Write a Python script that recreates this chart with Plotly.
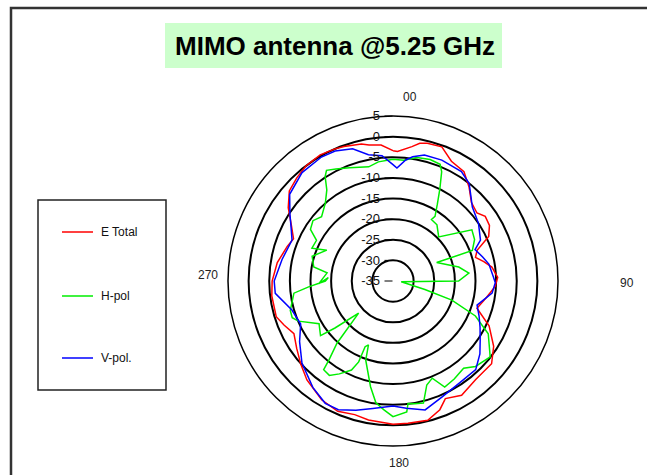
import plotly.graph_objects as go

# Radiation pattern of the MIMO antenna at 5.25 GHz (angle in degrees, gain in dB)
e_total_deg = [0, 2, 8, 11, 14, 20, 26, 33, 39, 45, 51, 55, 60, 65, 70, 74, 78, 82, 88,
               93, 100, 108, 115, 123, 130, 140, 149, 156, 160, 166, 174, 180, 190, 196,
               203, 211, 221, 228, 235, 242, 248, 253, 263, 270, 279, 288, 293, 299, 305,
               311, 317, 323, 330, 336, 340, 347, 350, 355, 360]
e_total_db = [-3.4, -3.6, -2.1, -1.0, -0.6, -0.4, -2.7, -3.4, -5.7, -8.1, -8.8, -7.7, -8.0,
              -9.4, -13.3, -14.2, -12.5, -10.8, -9.6, -10.2, -12.0, -13.6, -9.3, -5.9, -3.8,
              -3.8, -2.7, -3.8, -1.8, -0.2, -0.3, -0.3, -0.8, -1.3, -0.7, -1.4, -3.2, -4.9,
              -6.5, -7.8, -6.5, -5.4, -5.4, -5.7, -6.6, -8.0, -8.8, -6.8, -4.0, -1.7, -0.8,
              0.0, 0.3, 0.0, -0.3, -0.9, -1.5, -1.9, -3.4]

v_pol_deg = [0, 2, 6, 9, 14, 22, 32, 38, 47, 56, 65, 69, 75, 80, 88, 91, 97, 106, 112,
             118, 124, 130, 137, 147, 157, 166, 174, 180, 189, 196, 203, 209, 217, 228,
             237, 245, 254, 264, 270, 281, 292, 298, 303, 310, 320, 330, 336, 343, 349,
             355, 360]
v_pol_db = [-6.8, -7.6, -5.5, -4.5, -3.5, -3.4, -3.7, -5.0, -8.7, -10.0, -11.6, -13.7,
            -12.5, -11.4, -10.6, -10.2, -10.8, -13.8, -12.5, -11.1, -9.5, -7.5, -5.6, -5.5,
            -4.5, -2.8, -4.0, -4.7, -3.7, -2.4, -1.1, -1.1, -2.7, -5.3, -8.0, -10.3, -9.5,
            -6.3, -6.2, -7.6, -8.6, -7.0, -5.2, -2.3, -0.7, -0.3, -0.5, -1.5, -3.8, -4.5,
            -6.8]

h_pol_deg = [0, 5, 11, 17, 22, 24, 27, 30, 33, 32, 38, 46, 57, 63, 69, 67, 78, 84, 90,
             95, 105, 108, 113, 119, 128, 136, 141, 148, 154, 158, 162, 166, 170, 173,
             174, 180, 184, 188, 192, 199, 201, 203, 203, 205, 210, 214, 218, 219, 222,
             227, 231, 233, 240, 247, 250, 254, 263, 266, 270, 273, 268, 277, 280, 287,
             295, 292, 298, 302, 307, 312, 319, 324, 327, 329, 333, 339, 348, 353, 360]
h_pol_db = [-5.5, -5.6, -4.5, -4.2, -4.5, -6.0, -10.0, -13.5, -16.3, -17.4, -17.7, -19.6,
            -12.2, -12.8, -14.4, -23.5, -18.7, -16.5, -19.1, -33.0, -27.0, -20.0, -13.3,
            -8.6, -5.1, -6.2, -7.8, -7.0, -6.4, -9.6, -8.5, -4.5, -4.8, -5.1, -3.1, -2.1,
            -3.7, -5.2, -8.8, -14.7, -18.4, -17.7, -13.7, -11.2, -9.0, -7.4, -7.7, -10.3,
            -14.7, -23.6, -16.9, -13.0, -14.3, -10.1, -9.0, -9.1, -10.8, -14.5, -18.6,
            -19.3, -17.0, -18.9, -15.5, -14.5, -17.3, -13.8, -14.0, -11.4, -10.7, -11.7,
            -10.0, -7.7, -4.8, -3.7, -4.5, -5.6, -6.7, -5.9, -5.5]

radial_ticks = [-35, -30, -25, -20, -15, -10, -5, 0, 5]
angle_labels = ["00", "90", "180", "270"]

W, H = 647, 475
FONT = "Liberation Sans, Arial, sans-serif"


def px(x, y):
    """Pixel position -> paper coordinates."""
    return x / W, 1 - y / H


fig = go.Figure()
for name, th, r, color in [
    ("E Total", e_total_deg, e_total_db, "#ff0000"),
    ("H-pol", h_pol_deg, h_pol_db, "#00ee00"),
    ("V-pol.", v_pol_deg, v_pol_db, "#0000ff"),
]:
    fig.add_trace(go.Scatterpolar(theta=th, r=r, mode="lines", name=name,
                                  line=dict(color=color, width=1.5),
                                  showlegend=False))

cx, cy, R = 393, 281, 165
x0, y1 = px(cx - R, cy - R)
x1, y0 = px(cx + R, cy + R)

fig.update_layout(
    width=W, height=H,
    margin=dict(l=0, r=0, t=0, b=0),
    paper_bgcolor="white",
    font=dict(family=FONT, color="#111"),
    polar=dict(
        domain=dict(x=[x0, x1], y=[y0, y1]),
        bgcolor="white",
        angularaxis=dict(rotation=90, direction="clockwise", showgrid=False,
                         showticklabels=False, ticks="", showline=True,
                         linecolor="black", linewidth=1.5),
        radialaxis=dict(range=[-35, 5], tickvals=radial_ticks,
                        ticktext=[str(v) for v in radial_ticks],
                        angle=90, tickangle=90, side="counterclockwise",
                        showline=False, gridcolor="black", gridwidth=1.5,
                        ticks="outside", ticklen=8, tickcolor="black",
                        tickfont=dict(size=13, color="#111")),
    ),
)

shapes = []
# chart frame
fx, fy = px(11, 8)
shapes.append(dict(type="rect", xref="paper", yref="paper", x0=fx, y0=fy, x1=1.2, y1=-0.2,
                   line=dict(color="#333", width=2.5)))
# title box
tx0, ty0 = px(165, 23)
tx1, ty1 = px(502, 68)
shapes.append(dict(type="rect", xref="paper", yref="paper", x0=tx0, y0=ty0, x1=tx1, y1=ty1,
                   fillcolor="#ccffcc", line=dict(width=0), layer="below"))
# legend box
lx0, ly0 = px(38, 200)
lx1, ly1 = px(166, 390)
shapes.append(dict(type="rect", xref="paper", yref="paper", x0=lx0, y0=ly0, x1=lx1, y1=ly1,
                   line=dict(color="#222", width=1.5)))

annotations = []
for (name, color), ypx in zip([("E Total", "#ff0000"), ("H-pol", "#00ee00"),
                                ("V-pol.", "#0000ff")], [232, 296, 358]):
    a, b = px(62, ypx)
    c, _ = px(93, ypx)
    shapes.append(dict(type="line", xref="paper", yref="paper", x0=a, y0=b, x1=c, y1=b,
                       line=dict(color=color, width=1.5)))
    tx, ty = px(99, ypx)
    annotations.append(dict(text=name, x=tx, y=ty, xref="paper", yref="paper",
                            xanchor="left", yanchor="middle", showarrow=False,
                            font=dict(size=12, color="#111")))

title_x, title_y = px(335, 46)
annotations.append(dict(text="<b>MIMO antenna @5.25 GHz</b>", x=title_x, y=title_y,
                        xref="paper", yref="paper", showarrow=False,
                        xanchor="center", yanchor="middle",
                        font=dict(size=26, color="black", family=FONT)))

for lab, (ax, ay) in zip(angle_labels, [(410, 97), (627, 283), (399, 463), (208, 275)]):
    u, v = px(ax, ay)
    annotations.append(dict(text=lab, x=u, y=v, xref="paper", yref="paper",
                            showarrow=False, xanchor="center", yanchor="middle",
                            font=dict(size=12, color="#222")))

fig.update_layout(shapes=shapes, annotations=annotations)
fig.write_html("out.html")
